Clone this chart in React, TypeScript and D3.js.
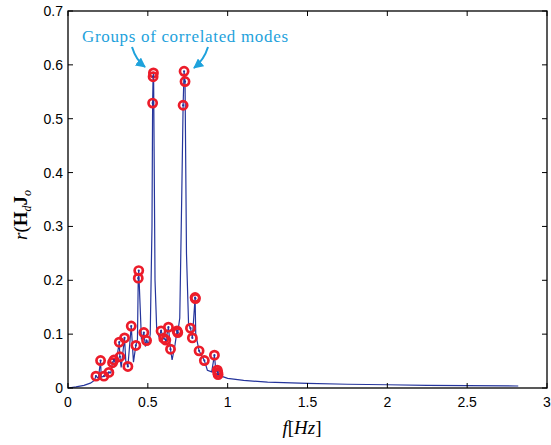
import React from 'react';
import * as d3 from 'd3';

// curve vertices (frequency, correlation)
const lineF = [0, 0.05, 0.1, 0.14, 0.165, 0.175, 0.19, 0.204, 0.208, 0.225, 0.24, 0.256, 0.268, 0.279, 0.2875, 0.3, 0.321, 0.325, 0.333, 0.354, 0.362, 0.375, 0.396, 0.41, 0.425, 0.435, 0.44, 0.443, 0.46, 0.475, 0.485, 0.492, 0.505, 0.515, 0.526, 0.53, 0.533, 0.536, 0.545, 0.556, 0.57, 0.583, 0.6, 0.6125, 0.629, 0.642, 0.652, 0.67, 0.683, 0.6875, 0.7, 0.712, 0.721, 0.727, 0.733, 0.742, 0.755, 0.767, 0.779, 0.796, 0.8, 0.821, 0.854, 0.873, 0.9, 0.917, 0.925, 0.935, 0.94, 0.96, 1.0, 1.1, 1.25, 1.5, 1.75, 2.0, 2.25, 2.5, 2.82];
const lineR = [0, 0.002, 0.005, 0.009, 0.014, 0.022, 0.018, 0.051, 0.02, 0.022, 0.024, 0.029, 0.028, 0.047, 0.052, 0.045, 0.085, 0.058, 0.038, 0.093, 0.05, 0.04, 0.115, 0.048, 0.079, 0.09, 0.204, 0.218, 0.09, 0.103, 0.077, 0.088, 0.082, 0.1, 0.3, 0.529, 0.578, 0.585, 0.2, 0.105, 0.095, 0.106, 0.092, 0.089, 0.113, 0.072, 0.052, 0.08, 0.106, 0.103, 0.13, 0.35, 0.525, 0.588, 0.569, 0.25, 0.12, 0.111, 0.093, 0.168, 0.1, 0.069, 0.051, 0.033, 0.03, 0.061, 0.035, 0.033, 0.025, 0.022, 0.018, 0.014, 0.011, 0.0087, 0.007, 0.006, 0.005, 0.0043, 0.0037];

// identified modes (red circles)
const modeF = [0.175, 0.204, 0.225, 0.256, 0.279, 0.2875, 0.321, 0.325, 0.354, 0.375, 0.396, 0.425, 0.443, 0.44, 0.475, 0.492, 0.535, 0.533, 0.53, 0.583, 0.6, 0.6125, 0.629, 0.642, 0.683, 0.6875, 0.727, 0.733, 0.721, 0.767, 0.779, 0.796, 0.798, 0.821, 0.854, 0.917, 0.935, 0.94, 0.938];
const modeR = [0.022, 0.051, 0.022, 0.029, 0.047, 0.052, 0.085, 0.058, 0.093, 0.04, 0.115, 0.079, 0.218, 0.204, 0.103, 0.088, 0.585, 0.578, 0.529, 0.106, 0.092, 0.089, 0.113, 0.072, 0.106, 0.103, 0.588, 0.569, 0.525, 0.111, 0.093, 0.168, 0.166, 0.069, 0.051, 0.061, 0.033, 0.025, 0.029];

const xTicks = [0, 0.5, 1, 1.5, 2, 2.5, 3];
const yTicks = [0, 0.1, 0.2, 0.3, 0.4, 0.5, 0.6, 0.7];

const W = 551;
const H = 445;
const left = 68, right = 547, top = 11, bottom = 388;

export default function App() {
  const x = d3.scaleLinear().domain([0, 3]).range([left, right]);
  const y = d3.scaleLinear().domain([0, 0.7]).range([bottom, top]);

  const line = d3.line<number>()
    .x((_, i) => x(lineF[i]))
    .y((_, i) => y(lineR[i]));

  const blue = '#25359c';
  const red = '#ec1c2a';
  const cyan = '#1ea2dc';
  const tickFont = "'Liberation Sans', Arial, sans-serif";
  const serif = "'Liberation Serif', 'DejaVu Serif', serif";

  return (
    <svg width={W} height={H} style={{ position: 'absolute', left: 0, top: 0, background: '#fff' }}>
      <defs>
        <marker id="ah" viewBox="0 0 10 10" refX="9" refY="5" markerWidth="10" markerHeight="10" orient="auto" markerUnits="userSpaceOnUse">
          <path d="M0,0 L10,5 L0,10 z" fill={cyan} />
        </marker>
      </defs>

      <path d={line(lineF) || ''} fill="none" stroke={blue} strokeWidth={1.2} />

      {modeF.map((f, i) => (
        <g key={i}>
          <circle cx={x(f)} cy={y(modeR[i])} r={4.1} fill="none" stroke={red} strokeWidth={2.7} />
          <circle cx={x(f)} cy={y(modeR[i])} r={1.1} fill={blue} />
        </g>
      ))}

      {/* frame */}
      <rect x={left} y={top} width={right - left} height={bottom - top} fill="none" stroke="#000" strokeWidth={1.3} />

      {xTicks.map(t => (
        <g key={'x' + t}>
          <line x1={x(t)} x2={x(t)} y1={bottom} y2={bottom - 5} stroke="#000" />
          <line x1={x(t)} x2={x(t)} y1={top} y2={top + 5} stroke="#000" />
          <text x={x(t)} y={407} textAnchor="middle" fontFamily={tickFont} fontSize={14}>{t}</text>
        </g>
      ))}
      {yTicks.map(t => (
        <g key={'y' + t}>
          <line x1={left} x2={left + 5} y1={y(t)} y2={y(t)} stroke="#000" />
          <line x1={right} x2={right - 5} y1={y(t)} y2={y(t)} stroke="#000" />
          <text x={63} y={y(t) + 5} textAnchor="end" fontFamily={tickFont} fontSize={14}>{t}</text>
        </g>
      ))}

      {/* axis labels */}
      <text x={302} y={434} textAnchor="middle" fontFamily={serif} fontSize={19}>
        <tspan fontStyle="italic">f</tspan>[<tspan fontStyle="italic">Hz</tspan>]
      </text>
      <text transform="translate(27,215) rotate(-90)" textAnchor="middle" fontFamily={serif} fontSize={19}>
        <tspan fontStyle="italic">r</tspan>(<tspan fontWeight="bold">H</tspan>
        <tspan fontStyle="italic" fontSize={12} dy={4}>d</tspan>
        <tspan fontWeight="bold" dy={-4}>J</tspan>
        <tspan fontStyle="italic" fontSize={12} dy={4}>o</tspan>
      </text>

      {/* annotation */}
      <text x={82} y={42} fontFamily={serif} fontSize={17} fill={cyan} textLength={206}>Groups of correlated modes</text>
      <path d="M132,47 Q136,60 145,67" fill="none" stroke={cyan} strokeWidth={2} markerEnd="url(#ah)" />
      <path d="M208,47 Q204,60 194,68" fill="none" stroke={cyan} strokeWidth={2} markerEnd="url(#ah)" />
    </svg>
  );
}
